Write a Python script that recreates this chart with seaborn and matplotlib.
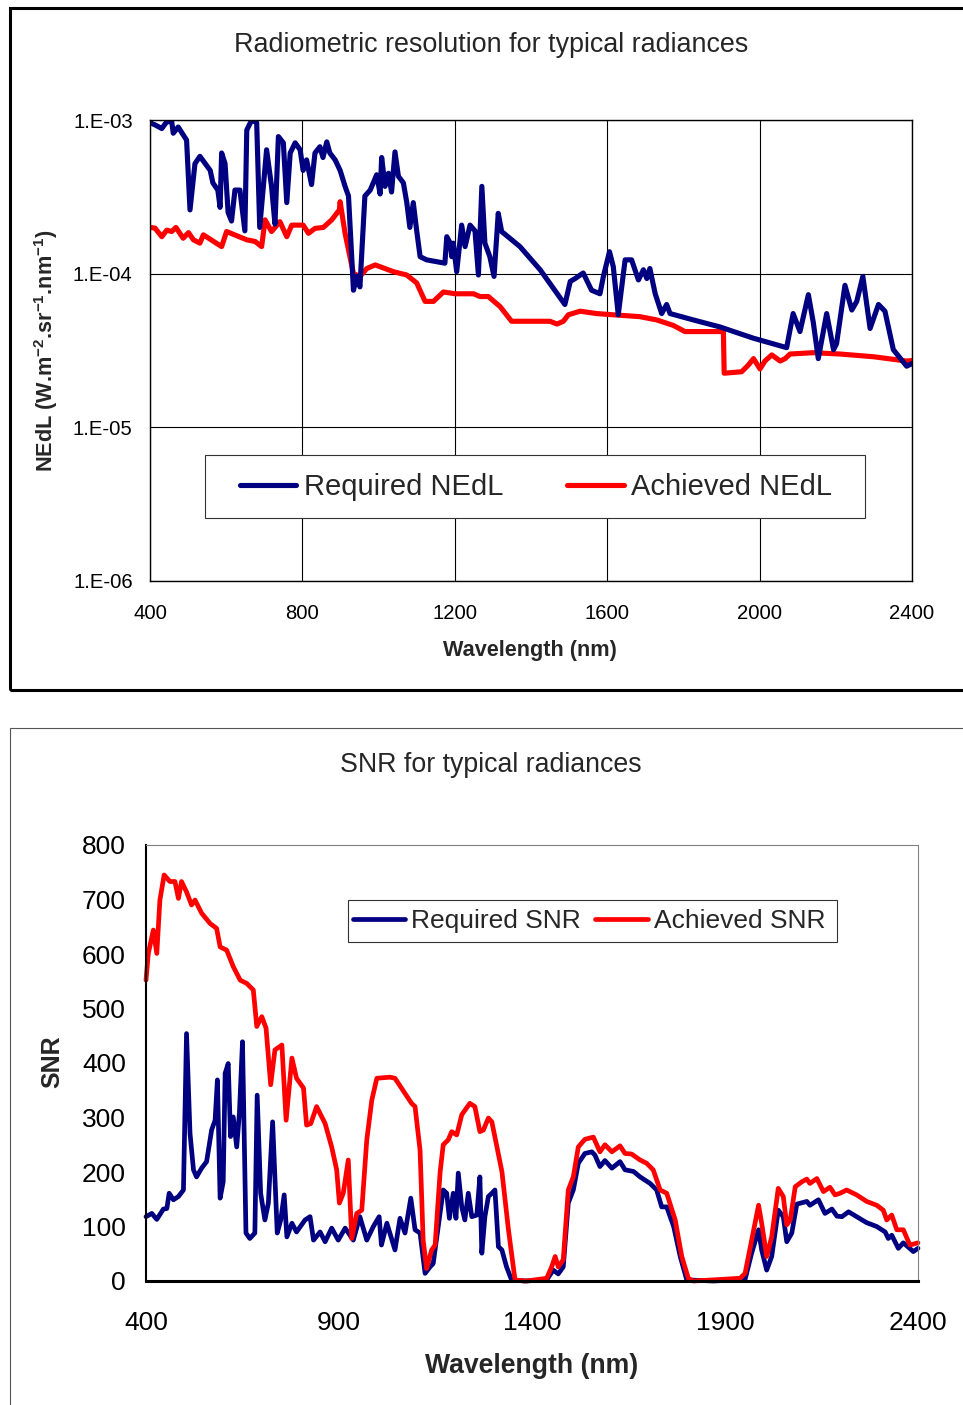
import matplotlib
matplotlib.use("Agg")
import matplotlib.pyplot as plt
from matplotlib.patches import Rectangle
from matplotlib.ticker import NullLocator
from matplotlib import font_manager
import seaborn as sns

# ---------------------------------------------------------------- data
# Radiometric resolution (NEdL, W.m-2.sr-1.nm-1) versus wavelength (nm)
req_nedl_wl = [400, 413, 431, 444, 457, 461, 474, 496, 505, 518,
               531, 558, 565, 578, 584, 588, 597, 605, 614, 623,
               636, 649, 654, 667, 680, 688, 706, 719, 728, 737,
               750, 759, 768, 781, 794, 802, 811, 824, 833, 846,
               854, 864, 872, 886, 899, 912, 921, 934, 943, 951,
               964, 978, 986, 995, 1004, 1008, 1017, 1026, 1034, 1043,
               1052, 1065, 1074, 1082, 1091, 1100, 1109, 1126, 1174, 1179,
               1188, 1192, 1196, 1205, 1218, 1227, 1240, 1253, 1262, 1271,
               1279, 1292, 1303, 1314, 1323, 1371, 1424, 1459, 1489, 1503,
               1516, 1537, 1559, 1581, 1590, 1606, 1616, 1629, 1647, 1664,
               1682, 1695, 1704, 1712, 1726, 1743, 1756, 1765, 1826, 1896,
               1984, 2071, 2088, 2106, 2128, 2141, 2154, 2176, 2194, 2202,
               2224, 2242, 2255, 2271, 2290, 2312, 2329, 2351, 2386, 2400]
req_nedl = [9.6e-4, 9.3e-4, 8.8e-4, 9.75e-4, 9.75e-4, 8.2e-4, 9.0e-4, 7.4e-4, 2.6e-4, 5.2e-4,
            5.8e-4, 4.7e-4, 3.9e-4, 3.5e-4, 2.7e-4, 6.1e-4, 5.2e-4, 2.5e-4, 2.2e-4, 3.5e-4,
            3.5e-4, 1.9e-4, 8.6e-4, 1.0e-3, 9.6e-4, 2.0e-4, 6.4e-4, 3.7e-4, 2.1e-4, 7.8e-4,
            7.1e-4, 2.9e-4, 6.1e-4, 7.1e-4, 6.4e-4, 4.7e-4, 5.5e-4, 3.8e-4, 6.1e-4, 6.7e-4,
            5.7e-4, 7.2e-4, 6.1e-4, 5.5e-4, 4.7e-4, 3.7e-4, 3.2e-4, 7.8e-5, 9.6e-5, 8.2e-5,
            3.2e-4, 3.5e-4, 3.9e-4, 4.4e-4, 3.3e-4, 5.7e-4, 3.7e-4, 4.5e-4, 3.4e-4, 6.2e-4,
            4.3e-4, 3.9e-4, 2.9e-4, 2.0e-4, 2.9e-4, 1.9e-4, 1.29e-4, 1.23e-4, 1.17e-4, 1.74e-4,
            1.58e-4, 1.29e-4, 1.58e-4, 1.03e-4, 2.07e-4, 1.5e-4, 2.07e-4, 1.9e-4, 9.8e-5, 3.7e-4,
            1.58e-4, 1.29e-4, 9.6e-5, 2.47e-4, 1.88e-4, 1.5e-4, 1.06e-4, 8.0e-5, 6.3e-5, 8.9e-5,
            9.3e-5, 1.01e-4, 7.8e-5, 7.4e-5, 9.6e-5, 1.39e-4, 1.11e-4, 5.4e-5, 1.23e-4, 1.23e-4,
            9.1e-5, 1.06e-4, 9.3e-5, 1.08e-4, 7.4e-5, 5.5e-5, 6.3e-5, 5.5e-5, 5.0e-5, 4.5e-5,
            3.8e-5, 3.3e-5, 5.5e-5, 4.2e-5, 7.3e-5, 4.8e-5, 2.8e-5, 5.5e-5, 3.2e-5, 3.5e-5,
            8.4e-5, 5.8e-5, 6.6e-5, 9.6e-5, 4.4e-5, 6.3e-5, 5.7e-5, 3.2e-5, 2.5e-5, 2.6e-5]

ach_nedl_wl = [400, 413, 431, 444, 457, 468, 487, 501, 514, 531,
               540, 588, 601, 654, 676, 693, 702, 719, 741, 759,
               772, 802, 816, 833, 855, 877, 897, 899, 912, 934,
               951, 969, 991, 1039, 1074, 1100, 1122, 1144, 1170, 1201,
               1249, 1266, 1288, 1319, 1349, 1450, 1468, 1485, 1498, 1529,
               1572, 1616, 1686, 1730, 1774, 1804, 1905, 1907, 1953, 1971,
               1984, 2001, 2014, 2032, 2054, 2067, 2080, 2141, 2211, 2299,
               2351, 2386, 2400]
ach_nedl = [2.0e-4, 1.98e-4, 1.74e-4, 1.92e-4, 1.88e-4, 2.0e-4, 1.7e-4, 1.85e-4, 1.66e-4, 1.58e-4,
            1.79e-4, 1.5e-4, 1.88e-4, 1.66e-4, 1.62e-4, 1.5e-4, 2.24e-4, 1.88e-4, 2.18e-4, 1.74e-4,
            2.07e-4, 2.07e-4, 1.83e-4, 1.97e-4, 2.0e-4, 2.24e-4, 2.6e-4, 2.94e-4, 1.83e-4, 1.0e-4,
            9.6e-5, 1.08e-4, 1.14e-4, 1.03e-4, 9.8e-5, 8.7e-5, 6.6e-5, 6.6e-5, 7.6e-5, 7.4e-5,
            7.4e-5, 7.1e-5, 7.1e-5, 6.1e-5, 4.9e-5, 4.9e-5, 4.7e-5, 4.9e-5, 5.4e-5, 5.7e-5,
            5.5e-5, 5.4e-5, 5.25e-5, 5.0e-5, 4.6e-5, 4.2e-5, 4.2e-5, 2.25e-5, 2.3e-5, 2.55e-5,
            2.8e-5, 2.4e-5, 2.7e-5, 2.96e-5, 2.7e-5, 2.8e-5, 3.0e-5, 3.06e-5, 3.0e-5, 2.88e-5,
            2.77e-5, 2.7e-5, 2.72e-5]

# Signal-to-noise ratio versus wavelength (nm)
req_snr_wl = [400, 415, 428, 445, 454, 460, 471, 484, 497, 505,
              514, 523, 531, 544, 557, 570, 579, 585, 592, 600,
              605, 613, 619, 626, 635, 642, 650, 659, 669, 682,
              688, 697, 708, 717, 728, 740, 749, 758, 765, 778,
              790, 812, 825, 834, 851, 864, 881, 898, 916, 937,
              954, 972, 989, 1004, 1010, 1024, 1045, 1058, 1071, 1086,
              1097, 1110, 1123, 1136, 1144, 1157, 1170, 1179, 1186, 1196,
              1203, 1209, 1218, 1226, 1235, 1244, 1257, 1265, 1270, 1278,
              1287, 1296, 1304, 1313, 1322, 1334, 1347, 1380, 1438, 1455,
              1468, 1481, 1494, 1507, 1520, 1537, 1555, 1563, 1576, 1589,
              1607, 1628, 1641, 1663, 1680, 1706, 1723, 1736, 1749, 1767,
              1784, 1801, 1870, 1952, 1969, 1987, 1995, 2008, 2021, 2038,
              2051, 2060, 2073, 2086, 2112, 2120, 2142, 2159, 2177, 2190,
              2203, 2220, 2241, 2267, 2293, 2315, 2323, 2332, 2349, 2362,
              2388, 2400]
req_snr = [118, 124, 113, 132, 133, 161, 149, 155, 167, 454,
           271, 204, 191, 207, 219, 277, 295, 369, 152, 182,
           381, 399, 265, 301, 246, 308, 439, 88, 78, 88,
           341, 161, 112, 143, 292, 88, 112, 158, 81, 106,
           90, 112, 118, 75, 90, 72, 97, 75, 97, 75,
           118, 75, 100, 118, 66, 106, 57, 115, 88, 152,
           94, 88, 14, 26, 32, 100, 167, 161, 115, 161,
           115, 198, 136, 112, 161, 118, 121, 191, 51, 118,
           155, 161, 167, 63, 57, 26, 2, 0, 2, 20,
           13, 26, 143, 167, 216, 234, 237, 231, 210, 221,
           207, 219, 204, 201, 191, 179, 167, 136, 136, 100,
           45, 2, 0, 3, 51, 94, 57, 20, 45, 130,
           118, 72, 88, 141, 146, 139, 149, 124, 132, 119,
           118, 127, 118, 107, 100, 90, 78, 84, 60, 70,
           54, 60]

ach_snr_wl = [400, 406, 419, 428, 436, 447, 462, 475, 484, 492,
              505, 518, 527, 544, 566, 583, 592, 609, 626, 644,
              661, 678, 687, 700, 711, 723, 734, 752, 763, 778,
              790, 808, 816, 827, 842, 864, 881, 894, 901, 911,
              924, 933, 946, 959, 972, 985, 998, 1032, 1045, 1071,
              1088, 1097, 1110, 1118, 1127, 1140, 1149, 1162, 1170, 1183,
              1192, 1205, 1218, 1239, 1252, 1265, 1274, 1287, 1296, 1322,
              1339, 1356, 1386, 1438, 1451, 1460, 1468, 1481, 1494, 1507,
              1520, 1537, 1559, 1576, 1589, 1607, 1628, 1641, 1658, 1680,
              1697, 1714, 1732, 1749, 1771, 1788, 1805, 1818, 1939, 1952,
              1969, 1987, 1995, 2008, 2021, 2038, 2051, 2060, 2069, 2082,
              2099, 2112, 2120, 2138, 2155, 2172, 2185, 2198, 2215, 2241,
              2267, 2293, 2310, 2319, 2332, 2345, 2362, 2379, 2400]
ach_snr = [552, 601, 644, 601, 699, 745, 733, 733, 702, 733,
           714, 690, 699, 675, 656, 647, 613, 607, 577, 552,
           546, 534, 467, 485, 464, 360, 424, 433, 295, 409,
           372, 354, 286, 289, 320, 289, 246, 204, 143, 161,
           222, 78, 124, 130, 259, 332, 372, 374, 372, 344,
           326, 320, 240, 75, 23, 57, 66, 200, 250, 259,
           274, 268, 305, 326, 320, 274, 277, 299, 292, 201,
           94, 2, 0, 5, 26, 45, 26, 39, 167, 191,
           246, 260, 264, 237, 250, 237, 248, 234, 233, 222,
           216, 204, 167, 161, 112, 45, 5, 0, 5, 14,
           75, 139, 106, 45, 81, 170, 155, 103, 112, 173,
           182, 187, 179, 188, 164, 172, 158, 161, 167, 158,
           146, 139, 130, 112, 121, 94, 94, 66, 70]

nedl_ticks = [1e-6, 1e-5, 1e-4, 1e-3]
nedl_tick_labels = ["1.E-06", "1.E-05", "1.E-04", "1.E-03"]
wl_ticks_top = [400, 800, 1200, 1600, 2000, 2400]
wl_ticks_bottom = [400, 900, 1400, 1900, 2400]
snr_ticks = [0, 100, 200, 300, 400, 500, 600, 700, 800]

NAVY = "#000080"
RED = "#FF0000"

# ---------------------------------------------------------------- style
sns.set_style("white")
installed = {f.name for f in font_manager.fontManager.ttflist}
base = "Liberation Sans" if "Liberation Sans" in installed else "DejaVu Sans"
plt.rcParams["font.family"] = [base, "DejaVu Sans"]
plt.rcParams["mathtext.fontset"] = "custom"
plt.rcParams["mathtext.rm"] = base
plt.rcParams["mathtext.bf"] = base + ":bold"

W, H = 963, 1405
fig = plt.figure(figsize=(W / 100, H / 100), dpi=100)
fig.patch.set_facecolor("white")


def fx(px):
    return px / W


def fy(py):
    return 1 - py / H


# chart frames
fig.add_artist(Rectangle((fx(10), fy(690)), fx(990), (690 - 8) / H,
                         transform=fig.transFigure, fill=False,
                         lw=2.2, ec="black", zorder=0))
fig.add_artist(Rectangle((fx(10), -0.05), fx(990), (1405 - 728) / H + 0.05,
                         transform=fig.transFigure, fill=False,
                         lw=0.8, ec="#555555", zorder=0))

line_kw = dict(solid_joinstyle="round", solid_capstyle="round")

# ---------------------------------------------------------------- NEdL chart
ax1 = fig.add_axes([fx(150), fy(581), (912 - 150) / W, (581 - 120) / H])
sns.lineplot(x=ach_nedl_wl, y=ach_nedl, ax=ax1, color=RED, lw=3.7,
             label="Achieved NEdL", estimator=None, sort=False, **line_kw)
sns.lineplot(x=req_nedl_wl, y=req_nedl, ax=ax1, color=NAVY, lw=3.7,
             label="Required NEdL", estimator=None, sort=False, **line_kw)
ax1.set_yscale("log")
ax1.set_xlim(400, 2400)
ax1.set_ylim(1e-6, 1e-3)
ax1.set_yticks(nedl_ticks, labels=nedl_tick_labels)
ax1.yaxis.set_minor_locator(NullLocator())
ax1.set_xticks(wl_ticks_top)
ax1.grid(True, which="major", color="black", lw=0.8)
for s in ax1.spines.values():
    s.set_color("black")
    s.set_linewidth(1.0)
ax1.tick_params(axis="both", direction="out", length=4.5, width=0.8,
                color="black", labelsize=14.6, labelcolor="black")
ax1.tick_params(axis="x", pad=12)
ax1.tick_params(axis="y", pad=8)
ax1.set_xlabel("Wavelength (nm)", fontsize=15.6, fontweight="bold",
               va="center", ha="center")
ax1.xaxis.set_label_coords((530 - 150) / 762, (581 - 651) / 461)
ax1.set_ylabel(r"NEdL (W.m$^{\mathbf{-2}}$.sr$^{\mathbf{-1}}$.nm$^{\mathbf{-1}}$)",
               fontsize=15.6, fontweight="bold", va="center", ha="center")
ax1.yaxis.set_label_coords((46 - 150) / 762, (581 - 351) / 461)

h1, l1 = ax1.get_legend_handles_labels()
order = [l1.index("Required NEdL"), l1.index("Achieved NEdL")]
ax1.add_patch(Rectangle(((205 - 150) / 762, (581 - 518) / 461),
                        660 / 762, 63 / 461, transform=ax1.transAxes,
                        fc="white", ec="#333333", lw=0.8, zorder=2.5))
ax1.legend([h1[i] for i in order], [l1[i] for i in order],
           loc="center", bbox_to_anchor=((536 - 150) / 762, (581 - 487.5) / 461),
           ncol=2, frameon=False, fontsize=21, handlelength=1.95,
           handletextpad=0.25, columnspacing=2.2, borderpad=0,
           borderaxespad=0)

fig.text(fx(491), fy(45), "Radiometric resolution for typical radiances",
         fontsize=19.4, ha="center", va="center")

# ---------------------------------------------------------------- SNR chart
ax2 = fig.add_axes([fx(146), fy(1281), (918 - 146) / W, (1281 - 845) / H])
sns.lineplot(x=req_snr_wl, y=req_snr, ax=ax2, color=NAVY, lw=3.4,
             label="Required SNR", estimator=None, sort=False,
             clip_on=False, **line_kw)
sns.lineplot(x=ach_snr_wl, y=ach_snr, ax=ax2, color=RED, lw=3.4,
             label="Achieved SNR", estimator=None, sort=False,
             clip_on=False, **line_kw)
ax2.set_xlim(400, 2400)
ax2.set_ylim(0, 800)
ax2.set_xticks(wl_ticks_bottom)
ax2.set_yticks(snr_ticks)
ax2.grid(False)
ax2.spines["left"].set_color("black")
ax2.spines["left"].set_linewidth(1.5)
ax2.spines["bottom"].set_color("black")
ax2.spines["bottom"].set_linewidth(2.2)
for side in ("top", "right"):
    ax2.spines[side].set_color("#808080")
    ax2.spines[side].set_linewidth(0.8)
ax2.tick_params(axis="both", direction="out", length=6.5, width=0.8,
                color="#333333", labelsize=19, labelcolor="black")
ax2.tick_params(axis="x", pad=15)
ax2.tick_params(axis="y", pad=8)
ax2.set_xlabel("Wavelength (nm)", fontsize=19.2, fontweight="bold",
               va="center", ha="center")
ax2.xaxis.set_label_coords(0.5, (1281 - 1366) / 436)
ax2.set_ylabel("SNR", fontsize=18, fontweight="bold", va="center", ha="center")
ax2.yaxis.set_label_coords((52 - 146) / 772, (1281 - 1062) / 436)

h2, l2 = ax2.get_legend_handles_labels()
ax2.add_patch(Rectangle(((348 - 146) / 772, (1281 - 942) / 436),
                        489 / 772, 42 / 436, transform=ax2.transAxes,
                        fc="white", ec="#333333", lw=0.8, zorder=2.5))
ax2.legend(h2, l2, loc="center",
           bbox_to_anchor=((589 - 146) / 772, (1281 - 921) / 436),
           ncol=2, frameon=False, fontsize=19, handlelength=2.0,
           handletextpad=0.22, columnspacing=0.55, borderpad=0,
           borderaxespad=0)

fig.text(fx(491), fy(765), "SNR for typical radiances",
         fontsize=19.3, ha="center", va="center")

fig.savefig("out.png", dpi=100, facecolor="white")
